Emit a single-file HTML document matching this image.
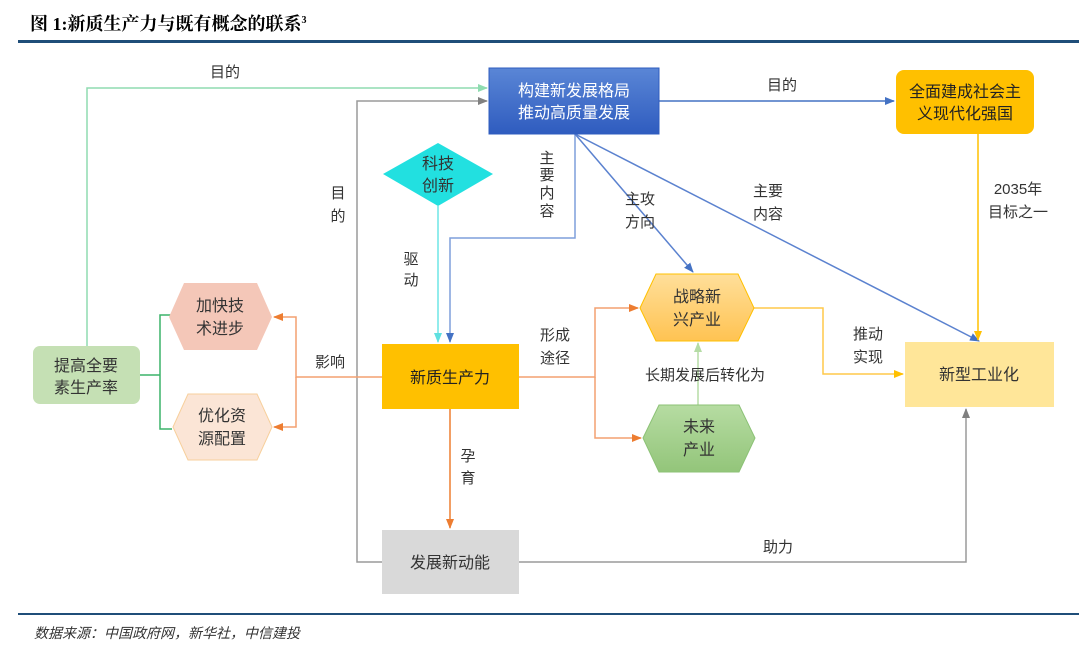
<!DOCTYPE html>
<html><head><meta charset="utf-8"><style>
body{margin:0;background:#fff;}
svg text{font-family:"Liberation Sans","Noto Sans CJK SC",sans-serif;}
</style></head><body>
<svg width="1079" height="650" viewBox="0 0 1079 650" xmlns="http://www.w3.org/2000/svg">
<defs>
<linearGradient id="gb" x1="0" y1="0" x2="0" y2="1"><stop offset="0" stop-color="#5a86d6"/><stop offset="1" stop-color="#2f5cbf"/></linearGradient>
<linearGradient id="go" x1="0" y1="0" x2="0" y2="1"><stop offset="0" stop-color="#ffdf9a"/><stop offset="1" stop-color="#ffc352"/></linearGradient>
<linearGradient id="gg" x1="0" y1="0" x2="0" y2="1"><stop offset="0" stop-color="#b6dca2"/><stop offset="1" stop-color="#93c57a"/></linearGradient>
<marker id="aBl" markerWidth="10" markerHeight="8" refX="9" refY="4" orient="auto" markerUnits="userSpaceOnUse"><path d="M0,0L10,4L0,8z" fill="#4472c4"/></marker>
<marker id="aGr" markerWidth="10" markerHeight="8" refX="9" refY="4" orient="auto" markerUnits="userSpaceOnUse"><path d="M0,0L10,4L0,8z" fill="#808080"/></marker>
<marker id="aLg" markerWidth="10" markerHeight="8" refX="9" refY="4" orient="auto" markerUnits="userSpaceOnUse"><path d="M0,0L10,4L0,8z" fill="#8fdcb0"/></marker>
<marker id="aOr" markerWidth="10" markerHeight="8" refX="9" refY="4" orient="auto" markerUnits="userSpaceOnUse"><path d="M0,0L10,4L0,8z" fill="#ed7d31"/></marker>
<marker id="aYe" markerWidth="10" markerHeight="8" refX="9" refY="4" orient="auto" markerUnits="userSpaceOnUse"><path d="M0,0L10,4L0,8z" fill="#ffc000"/></marker>
<marker id="aCy" markerWidth="10" markerHeight="8" refX="9" refY="4" orient="auto" markerUnits="userSpaceOnUse"><path d="M0,0L10,4L0,8z" fill="#5fe0e0"/></marker>
<marker id="aPg" markerWidth="10" markerHeight="8" refX="9" refY="4" orient="auto" markerUnits="userSpaceOnUse"><path d="M0,0L10,4L0,8z" fill="#b5dca5"/></marker>
</defs>
<text x="30" y="30" font-size="18" font-weight="bold" fill="#000" style="font-family:'Liberation Serif','Noto Serif CJK SC',serif">图 1:新质生产力与既有概念的联系<tspan font-size="10" dy="-7">3</tspan></text>
<rect x="18" y="40" width="1061" height="3" fill="#1f4e79"/>
<rect x="18" y="613" width="1061" height="2" fill="#1f4e79"/>
<text x="34" y="638" font-size="14" font-style="italic" fill="#333">数据来源：中国政府网，新华社，中信建投</text>

<g fill="none" stroke-width="1.5">
<polyline points="87,346 87,88 487,88" stroke="#8fdcb0" marker-end="url(#aLg)"/>
<polyline points="382,562 357,562 357,101 487,101" stroke="#9a9a9a" marker-end="url(#aGr)"/>
<line x1="659" y1="101" x2="894" y2="101" stroke="#4472c4" marker-end="url(#aBl)"/>
<polyline points="575,134 575,238 450,238 450,342" stroke="#7f9fdc" marker-end="url(#aBl)"/>
<line x1="575" y1="134" x2="693" y2="272" stroke="#5b82cf" marker-end="url(#aBl)"/>
<line x1="575" y1="134" x2="979" y2="341" stroke="#5b82cf" marker-end="url(#aBl)"/>
<line x1="978" y1="134" x2="978" y2="340" stroke="#ffc000" marker-end="url(#aYe)"/>
<line x1="438" y1="206" x2="438" y2="342" stroke="#6fe6e6" marker-end="url(#aCy)"/>
<polyline points="519,377 595,377 595,308 638,308" stroke="#f4a070" marker-end="url(#aOr)"/>
<polyline points="595,377 595,438 641,438" stroke="#f4a070" marker-end="url(#aOr)"/>
<line x1="698" y1="405" x2="698" y2="343" stroke="#b5dca5" marker-end="url(#aPg)"/>
<polyline points="754,308 823,308 823,374 903,374" stroke="#ffc94a" marker-end="url(#aYe)"/>
<polyline points="519,562 966,562 966,409" stroke="#9a9a9a" marker-end="url(#aGr)"/>
<polyline points="382,377 296,377 296,317 274,317" stroke="#f4a070" marker-end="url(#aOr)"/>
<polyline points="296,377 296,427 274,427" stroke="#f4a070" marker-end="url(#aOr)"/>
<polyline points="140,375 160,375" stroke="#3bb36a"/>
<polyline points="172,315 160,315 160,429 172,429" stroke="#3bb36a"/>
<line x1="450" y1="409" x2="450" y2="528" stroke="#ed7d31" marker-end="url(#aOr)"/>
</g>

<rect x="489" y="68" width="170" height="66" fill="url(#gb)" stroke="#2f5cbf"/>
<text x="574" y="96" font-size="16" fill="#fff" text-anchor="middle">构建新发展格局</text>
<text x="574" y="118" font-size="16" fill="#fff" text-anchor="middle">推动高质量发展</text>

<rect x="896" y="70" width="138" height="64" rx="8" fill="#ffc000"/>
<text x="965" y="97" font-size="16" fill="#222" text-anchor="middle">全面建成社会主</text>
<text x="965" y="119" font-size="16" fill="#222" text-anchor="middle">义现代化强国</text>

<polygon points="383,174 438,143 493,174 438,206" fill="#22e0e0"/>
<text x="438" y="169" font-size="16" fill="#333" text-anchor="middle">科技</text>
<text x="438" y="191" font-size="16" fill="#333" text-anchor="middle">创新</text>

<rect x="382" y="344" width="137" height="65" fill="#ffc000"/>
<text x="450" y="383" font-size="16" fill="#222" text-anchor="middle">新质生产力</text>

<rect x="382" y="530" width="137" height="64" fill="#d9d9d9"/>
<text x="450" y="568" font-size="16" fill="#333" text-anchor="middle">发展新动能</text>

<rect x="905" y="342" width="149" height="65" fill="#ffe699"/>
<text x="979" y="380" font-size="16" fill="#333" text-anchor="middle">新型工业化</text>

<polygon points="640,308 656,274 738,274 754,308 738,341 656,341" fill="url(#go)" stroke="#ffc000"/>
<text x="697" y="302" font-size="16" fill="#333" text-anchor="middle">战略新</text>
<text x="697" y="325" font-size="16" fill="#333" text-anchor="middle">兴产业</text>

<polygon points="643,438 659,405 739,405 755,438 739,472 659,472" fill="url(#gg)" stroke="#8cc276"/>
<text x="699" y="432" font-size="16" fill="#333" text-anchor="middle">未来</text>
<text x="699" y="455" font-size="16" fill="#333" text-anchor="middle">产业</text>

<polygon points="169,317 184,283 257,283 272,317 257,350 184,350" fill="#f4c7b8"/>
<text x="220" y="311" font-size="16" fill="#333" text-anchor="middle">加快技</text>
<text x="220" y="334" font-size="16" fill="#333" text-anchor="middle">术进步</text>

<polygon points="173,427 188,394 257,394 272,427 257,460 188,460" fill="#fbe5d6" stroke="#f7cf9c"/>
<text x="222" y="421" font-size="16" fill="#333" text-anchor="middle">优化资</text>
<text x="222" y="444" font-size="16" fill="#333" text-anchor="middle">源配置</text>

<rect x="33" y="346" width="107" height="58" rx="7" fill="#c5e0b4"/>
<text x="86" y="371" font-size="16" fill="#333" text-anchor="middle">提高全要</text>
<text x="86" y="393" font-size="16" fill="#333" text-anchor="middle">素生产率</text>

<g font-size="15" fill="#333" text-anchor="middle">
<text x="225" y="77">目的</text>
<text x="782" y="90">目的</text>
<text x="338" y="198">目</text><text x="338" y="221">的</text>
<text x="547" y="163">主</text><text x="547" y="180">要</text><text x="547" y="198">内</text><text x="547" y="216">容</text>
<text x="640" y="204">主攻</text><text x="640" y="227">方向</text>
<text x="768" y="196">主要</text><text x="768" y="219">内容</text>
<text x="1018" y="194">2035年</text><text x="1018" y="217">目标之一</text>
<text x="411" y="264">驱</text><text x="411" y="285">动</text>
<text x="555" y="340">形成</text><text x="555" y="363">途径</text>
<text x="705" y="380">长期发展后转化为</text>
<text x="868" y="339">推动</text><text x="868" y="362">实现</text>
<text x="778" y="552">助力</text>
<text x="330" y="367">影响</text>
<text x="468" y="461">孕</text><text x="468" y="483">育</text>
</g>
</svg>
</body></html>
